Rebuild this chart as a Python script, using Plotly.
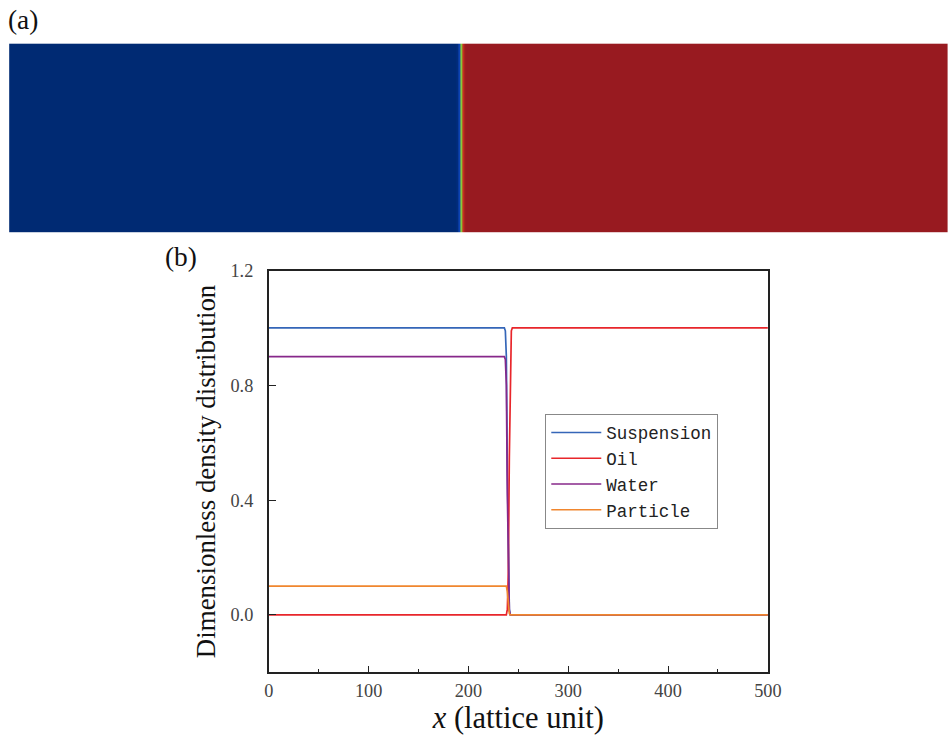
import plotly.graph_objects as go

# ---- data (lattice position x, dimensionless densities) ----
x_lat = [0, 100, 200, 230, 234, 236, 237, 238, 239, 240, 241, 242, 243, 244, 246, 250, 300, 400, 500]
suspension = [1.0, 1.0, 1.0, 1.0, 1.0, 1.0, 0.99, 0.9, 0.5, 0.15, 0.02, 0.0, 0.0, 0.0, 0.0, 0.0, 0.0, 0.0, 0.0]
oil =        [0.0, 0.0, 0.0, 0.0, 0.0, 0.0, 0.0, 0.0, 0.02, 0.15, 0.55, 0.9, 0.99, 1.0, 1.0, 1.0, 1.0, 1.0, 1.0]
water =      [0.9, 0.9, 0.9, 0.9, 0.9, 0.9, 0.89, 0.8, 0.42, 0.12, 0.015, 0.0, 0.0, 0.0, 0.0, 0.0, 0.0, 0.0, 0.0]
particle =   [0.1, 0.1, 0.101, 0.1, 0.1, 0.1, 0.1, 0.1, 0.08, 0.03, 0.005, 0.0, 0.0, 0.0, 0.0, 0.0, 0.0, 0.0, 0.0]

y_lat_edges = [0, 50, 100]          # channel height (lattice units) for panel (a)
y_ticks = [0.0, 0.4, 0.8, 1.2]
y_ticktext = ["0.0", "0.4", "0.8", "1.2"]
x_ticks = [0, 100, 200, 300, 400, 500]

series_names = ["Suspension", "Oil", "Water", "Particle"]
series_vals = [suspension, oil, water, particle]
series_colors = ["#3566b8", "#e8262b", "#87288a", "#f0862e"]

W, H = 966, 744
# map wanted on-screen pixel -> figure pixel (compensates observed rendering offset/scale)
AX, BX, AY, BY = 0.982, 3.8, 0.986, 9.6
def px_x(t): return ((t - BX) / AX) / W
def px_y(t): return 1 - ((t - BY) / AY) / H
def fs(s): return round(s / 0.984, 1)

jet_dark = [
    [0.0, "#002a73"], [0.12, "#0a35a8"], [0.28, "#1a7fe0"], [0.4, "#27c8d8"],
    [0.5, "#45b84a"], [0.6, "#cfd62c"], [0.72, "#f4a223"], [0.85, "#d8381f"],
    [1.0, "#981a20"],
]

fig = go.Figure()

# panel (a): density field, the oil profile extended across the channel height
fig.add_trace(go.Heatmap(
    x=x_lat, y=y_lat_edges, z=[oil, oil],
    colorscale=jet_dark, zmin=0, zmax=1, showscale=False,
    xaxis="x", yaxis="y", hoverinfo="skip",
))

# panel (b): profiles
for name, vals, col in zip(series_names, series_vals, series_colors):
    fig.add_trace(go.Scatter(
        x=x_lat, y=vals, mode="lines", name=name,
        line=dict(color=col, width=1.7),
        xaxis="x2", yaxis="y2",
    ))

axis_common = dict(showgrid=False, zeroline=False, showline=True, linecolor="#222",
                   linewidth=1.5, mirror=True, ticks="inside", tickwidth=1.3,
                   ticklen=7, tickcolor="#222",
                   tickfont=dict(family="Liberation Serif", size=fs(18), color="#444"))

fig.update_layout(
    width=W, height=H,
    margin=dict(l=0, r=0, t=0, b=0),
    paper_bgcolor="white", plot_bgcolor="white",
    showlegend=True,
    xaxis=dict(domain=[px_x(8), px_x(948)], range=[0, 500], visible=False),
    yaxis=dict(domain=[px_y(232), px_y(43)], range=[0, 100], visible=False),
    xaxis2=dict(domain=[px_x(268), px_x(768)], range=[0, 500], anchor="y2",
                tickvals=x_ticks, ticklabelstandoff=1,
                minor=dict(dtick=50, ticks="inside", ticklen=4, tickwidth=1, tickcolor="#222"),
                title=dict(text="<i>x</i> (lattice unit)", standoff=4,
                           font=dict(family="Liberation Serif", size=fs(30), color="#111")),
                **axis_common),
    yaxis2=dict(domain=[px_y(671.5), px_y(270)], range=[-0.2, 1.2], anchor="x2",
                tickvals=y_ticks, ticktext=y_ticktext, ticklabelstandoff=10,
                title=dict(text="Dimensionless density distribution", standoff=7,
                           font=dict(family="Liberation Serif", size=fs(26.5), color="#111")),
                **axis_common),
    legend=dict(x=px_x(545), y=px_y(413), xanchor="left", yanchor="top",
                bgcolor="white", bordercolor="#888", borderwidth=1,
                font=dict(family="Liberation Mono", size=17.5, color="#222"),
                itemwidth=50, tracegroupgap=0),
    annotations=[
        dict(text="(a)", x=px_x(5), y=px_y(20), xref="paper", yref="paper",
             xanchor="left", yanchor="middle", showarrow=False,
             font=dict(family="Liberation Serif", size=fs(27), color="#111")),
        dict(text="(b)", x=px_x(162), y=px_y(256), xref="paper", yref="paper",
             xanchor="left", yanchor="middle", showarrow=False,
             font=dict(family="Liberation Serif", size=fs(27), color="#111")),
    ],
)

fig.write_html("out.html")
